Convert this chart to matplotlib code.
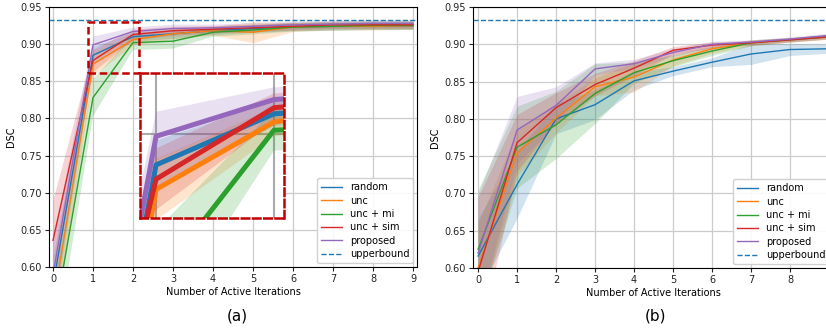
import matplotlib
matplotlib.use("Agg")
import matplotlib.pyplot as plt
from matplotlib.patches import Rectangle
import numpy as np

iters = np.arange(10)
names = ["random", "unc", "unc + mi", "unc + sim", "proposed"]
colors = ["#1f77b4", "#ff7f0e", "#2ca02c", "#d62728", "#9467bd"]
upperbound = 0.932

# panel (a): mean DSC per iteration
a_random = [0.575, 0.885, 0.910, 0.914, 0.918, 0.921, 0.923, 0.924, 0.925, 0.925]
a_unc = [0.550, 0.873, 0.906, 0.914, 0.918, 0.916, 0.923, 0.924, 0.924, 0.925]
a_mi = [0.520, 0.828, 0.902, 0.904, 0.916, 0.919, 0.923, 0.924, 0.925, 0.925]
a_sim = [0.636, 0.878, 0.913, 0.918, 0.920, 0.922, 0.924, 0.926, 0.926, 0.926]
a_prop = [0.590, 0.899, 0.917, 0.921, 0.922, 0.924, 0.926, 0.927, 0.928, 0.928]
# panel (a): half width of shaded band
a_random_sd = [0.04, 0.012, 0.006, 0.006, 0.005, 0.005, 0.005, 0.005, 0.005, 0.005]
a_unc_sd = [0.04, 0.015, 0.007, 0.007, 0.006, 0.014, 0.006, 0.005, 0.005, 0.005]
a_mi_sd = [0.05, 0.025, 0.010, 0.010, 0.006, 0.006, 0.006, 0.006, 0.006, 0.006]
a_sim_sd = [0.055, 0.015, 0.007, 0.006, 0.005, 0.005, 0.005, 0.005, 0.005, 0.005]
a_prop_sd = [0.045, 0.012, 0.006, 0.006, 0.005, 0.005, 0.005, 0.005, 0.005, 0.005]

# panel (b)
b_random = [0.616, 0.712, 0.800, 0.819, 0.851, 0.864, 0.876, 0.887, 0.893, 0.894]
b_unc = [0.600, 0.754, 0.801, 0.843, 0.856, 0.879, 0.894, 0.902, 0.906, 0.910]
b_mi = [0.625, 0.762, 0.792, 0.834, 0.862, 0.878, 0.891, 0.902, 0.906, 0.910]
b_sim = [0.595, 0.768, 0.815, 0.846, 0.868, 0.892, 0.899, 0.902, 0.906, 0.910]
b_prop = [0.620, 0.785, 0.818, 0.867, 0.874, 0.889, 0.900, 0.903, 0.907, 0.912]
b_random_sd = [0.05, 0.045, 0.020, 0.020, 0.012, 0.006, 0.006, 0.014, 0.008, 0.006]
b_unc_sd = [0.06, 0.030, 0.020, 0.012, 0.020, 0.008, 0.006, 0.004, 0.003, 0.003]
b_mi_sd = [0.08, 0.055, 0.045, 0.040, 0.014, 0.008, 0.006, 0.004, 0.003, 0.003]
b_sim_sd = [0.10, 0.038, 0.020, 0.015, 0.010, 0.005, 0.004, 0.003, 0.003, 0.003]
b_prop_sd = [0.08, 0.045, 0.025, 0.008, 0.006, 0.005, 0.004, 0.003, 0.003, 0.003]

panel_a = [(a_random, a_random_sd), (a_unc, a_unc_sd), (a_mi, a_mi_sd),
           (a_sim, a_sim_sd), (a_prop, a_prop_sd)]
panel_b = [(b_random, b_random_sd), (b_unc, b_unc_sd), (b_mi, b_mi_sd),
           (b_sim, b_sim_sd), (b_prop, b_prop_sd)]

plt.rcParams['font.family'] = 'DejaVu Sans'
fig = plt.figure(figsize=(8.26, 3.29), dpi=100)
ax1 = fig.add_axes([49/826, 62/329, 368/826, 260/329])
ax2 = fig.add_axes([473/826, 61/329, 360/826, 261/329])

box_red = "#c00000"


def draw(ax, data, lw=1.0, legend=True, ticks=True):
    for (m, sd), name, c in zip(data, names, colors):
        m = np.array(m); sd = np.array(sd)
        ax.fill_between(iters, m - sd, m + sd, color=c, alpha=0.2, linewidth=0)
        ax.plot(iters, m, color=c, lw=lw, label=name)
    ax.axhline(upperbound, color="#1f77b4", ls="--", lw=lw, label="upperbound")
    ax.grid(True, color="#cccccc", lw=0.9)
    ax.set_axisbelow(True)
    if ticks:
        ax.set_xlim(-0.1, 9.1)
        ax.set_ylim(0.60, 0.95)
        ax.set_xticks(range(10))
        ax.set_yticks(np.arange(0.60, 0.951, 0.05))
        ax.tick_params(labelsize=7, length=3, pad=2, colors="#222222")
        ax.set_xlabel("Number of Active Iterations", fontsize=7, labelpad=2)
        ax.set_ylabel("DSC", fontsize=7, labelpad=3)
    if legend:
        ax.legend(loc="lower right", fontsize=7, handlelength=2.2,
                  borderaxespad=0.4, labelspacing=0.35, framealpha=0.9)


draw(ax1, panel_a)
draw(ax2, panel_b)
ax2.set_xlim(-0.13, 9.1)

# zoom box on panel (a)
ax1.add_patch(Rectangle((0.88, 0.861), 1.27, 0.069, fill=False, ec=box_red,
                        ls=(0, (3, 1.5)), lw=1.8, zorder=5))

axin = fig.add_axes([140/826, 111/329, 144/826, 145/329])
draw(axin, panel_a, lw=3.6, legend=False, ticks=False)
axin.set_xlim(0.864, 2.085)
axin.set_ylim(0.859, 0.93)
axin.set_xticks([1, 2])
axin.set_yticks([0.9])
axin.tick_params(labelbottom=False, labelleft=False, length=0)
axin.grid(True, color="#aaaaaa", lw=1.5)
for s in axin.spines.values():
    s.set_edgecolor(box_red)
    s.set_linestyle((0, (3, 1.5)))
    s.set_linewidth(1.8)

fig.text(237/826, 1 - 316/329, "(a)", fontsize=11, ha="center", va="center")
fig.text(655/826, 1 - 316/329, "(b)", fontsize=11, ha="center", va="center")

fig.savefig("out.png", dpi=100)
